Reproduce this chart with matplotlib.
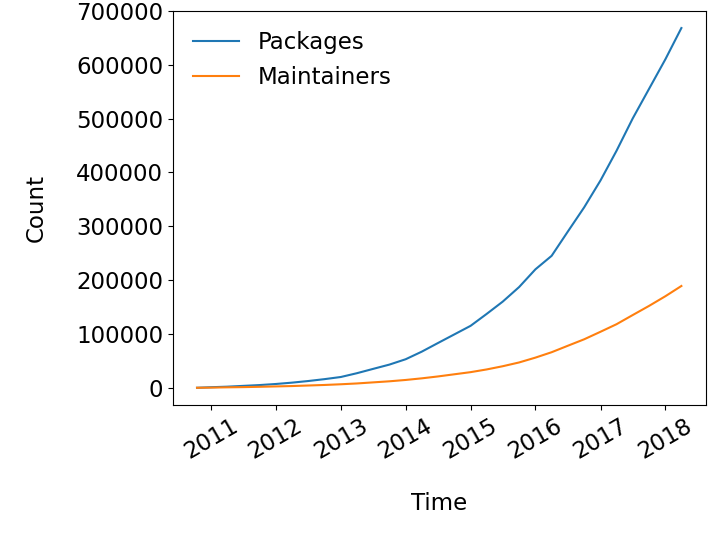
import matplotlib
matplotlib.use("Agg")
import matplotlib.pyplot as plt
import matplotlib.dates as mdates
import pandas as pd

# quarterly snapshots
dates = ["2010-10-15", "2011-01-01", "2011-04-01", "2011-07-01", "2011-10-01",
         "2012-01-01", "2012-04-01", "2012-07-01", "2012-10-01",
         "2013-01-01", "2013-04-01", "2013-07-01", "2013-10-01",
         "2014-01-01", "2014-04-01", "2014-07-01", "2014-10-01",
         "2015-01-01", "2015-04-01", "2015-07-01", "2015-10-01",
         "2016-01-01", "2016-04-01", "2016-07-01", "2016-10-01",
         "2017-01-01", "2017-04-01", "2017-07-01", "2017-10-01",
         "2018-01-01", "2018-04-01"]
packages = [0, 1000, 2000, 3500, 5000,
            7000, 9500, 12500, 16000,
            20000, 27000, 35000, 43000,
            53000, 67000, 83000, 99000,
            115000, 137000, 160000, 187000,
            220000, 245000, 290000, 335000,
            385000, 440000, 500000, 555000,
            610000, 668000]
maintainers = [0, 300, 800, 1200, 1800,
               2500, 3200, 4200, 5200,
               6500, 8000, 10000, 12000,
               14500, 17500, 21000, 25000,
               29000, 34000, 40000, 47000,
               56000, 66000, 78000, 90000,
               104000, 118000, 135000, 152000,
               170000, 189000]

x = pd.to_datetime(dates)

plt.rcParams["font.size"] = 16.5
fig, ax = plt.subplots(figsize=(7.2, 5.4), dpi=100)
ax.plot(x, packages, label="Packages")
ax.plot(x, maintainers, label="Maintainers")
ax.set_ylim(-32000, 700000)
ax.xaxis.set_major_locator(mdates.YearLocator())
ax.xaxis.set_major_formatter(mdates.DateFormatter("%Y"))
plt.setp(ax.get_xticklabels(), rotation=30)
ax.set_xlabel("Time", labelpad=20)
ax.set_ylabel("Count", labelpad=20)
ax.legend(loc="upper left", frameon=False)
fig.subplots_adjust(left=0.24, right=0.98, top=0.98, bottom=0.25)
fig.savefig("out.png")
